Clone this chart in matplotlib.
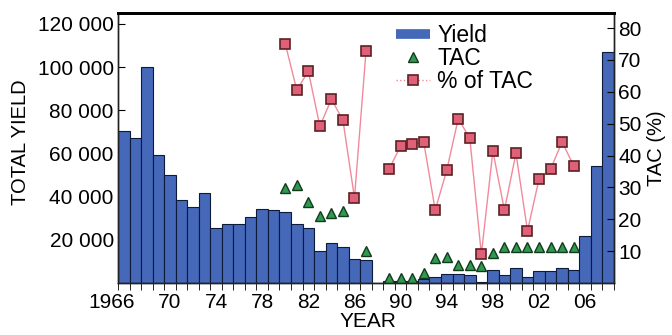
# yield, TAC and % of TAC by year
# bars = total yield (left axis), triangles = TAC (left axis), squares = % of TAC (right axis)

import matplotlib
matplotlib.use('Agg')
import matplotlib.pyplot as plt
import matplotlib.transforms as mtransforms
from matplotlib.lines import Line2D
from matplotlib.ticker import FuncFormatter
import numpy as np

plt.rcParams['font.family'] = ['Liberation Sans', 'DejaVu Sans']

#%% data
nan = np.nan
years = np.arange(1966, 2009)
yield_t = [70500, 67100, 100000, 59200, 50200, 38600, 35300, 41600, 25300, 27500,
           27500, 30600, 34200, 33600, 32700, 27500, 25300, 14700, 18600, 16600,
           11100, 10500, 0, 900, 900, 900, 1800, 3000, 4200, 4200,
           3700, 700, 6100, 3700, 6900, 2700, 5800, 5800, 6900, 6100,
           21700, 54100, 107000]
tac = [nan]*14 + [43900, 45500, 37700, 31100, 32400, 33200, nan, 14700, nan,
                  2200, 2200, 2200, 4500, 11600, 12300, 8400, 8400, 8000, 13900,
                  16600, 16600, 16600, 16600, 16600, 16600, 16600, nan, nan, nan]
pct_tac = [nan]*14 + [75.1, 60.5, 66.5, 49.2, 57.7, 51.1, 26.7, 72.7, nan,
                      35.7, 43.0, 43.5, 44.3, 22.9, 35.4, 51.6, 45.4, 9.0, 41.4,
                      22.9, 40.7, 16.4, 32.6, 35.7, 44.3, 36.8, nan, nan, nan]

label_years = [1966, 1970, 1974, 1978, 1982, 1986, 1990, 1994, 1998, 2002, 2006]
label_text = ['1966', '70', '74', '78', '82', '86', '90', '94', '98', '02', '06']

bar_color = '#4568b8'
tri_color = '#2f9a4f'
sq_color = '#e0607a'
line_color = '#f28a9a'

#%% make plot
fig = plt.figure(figsize=(6.72, 3.35), dpi=100)
ax1 = fig.add_axes([0.1756, 0.155, 0.7381, 0.806])
ax2 = ax1.twinx()

ax1.bar(years, yield_t, width=1.0, color=bar_color, edgecolor='#0d1a3a', linewidth=0.8, zorder=2)
ax1.plot(years, tac, linestyle='none', marker='^', markersize=7, markerfacecolor=tri_color,
         markeredgecolor='#143a1e', markeredgewidth=1.0, zorder=3)
ax2.plot(years, pct_tac, color=line_color, linewidth=1.0, marker='s', markersize=6.5,
         markerfacecolor=sq_color, markeredgecolor='#5a2222', markeredgewidth=1.2)

ax1.set_xlim(1965.5, 2008.5)
ax1.set_ylim(0, 125000)
ax2.set_ylim(0, 84.7)

# y axes
ax1.set_yticks([20000, 40000, 60000, 80000, 100000, 120000])
ax1.yaxis.set_major_formatter(FuncFormatter(lambda v, p: '{:,.0f}'.format(v).replace(',', ' ')))
ax2.set_yticks([10, 20, 30, 40, 50, 60, 70, 80])
ax1.tick_params(axis='y', direction='in', length=5, labelsize=15, pad=3)
ax2.tick_params(axis='y', direction='in', length=5, labelsize=15, pad=3)

# x axis: labels at bar centres, small ticks between bars
ax1.set_xticks(label_years)
ax1.set_xticklabels(label_text)
ax1.set_xticks(np.arange(1965.5, 2009, 1.0), minor=True)
ax1.tick_params(axis='x', which='major', length=0, labelsize=15, pad=7)
ax1.tick_params(axis='x', which='minor', direction='out', length=5)
# the first label sits a bit to the left in the original
offset = mtransforms.ScaledTranslation(-12/100, 0, fig.dpi_scale_trans)
lab0 = ax1.get_xticklabels()[0]
lab0.set_transform(lab0.get_transform() + offset)

ax1.set_ylabel('TOTAL YIELD', fontsize=14.5)
ax1.yaxis.set_label_coords(-0.177, 0.52)
ax2.set_ylabel('TAC (%)', fontsize=14.5)
ax2.yaxis.set_label_coords(1.066, 0.5)
ax1.set_xlabel('YEAR', fontsize=15)
ax1.xaxis.set_label_coords(0.504, -0.108)

for ax in (ax1, ax2):
    ax.spines['top'].set_linewidth(2.0)
    for s in ('left', 'right', 'bottom'):
        ax.spines[s].set_linewidth(1.0)
        ax.spines[s].set_color('#222222')

# legend with proxies
h_yield = Line2D([], [], color=bar_color, linewidth=7, solid_capstyle='butt')
h_tac = Line2D([], [], linestyle='none', marker='^', markersize=7, markerfacecolor=tri_color,
               markeredgecolor='#143a1e')
h_pct = Line2D([], [], color=line_color, linestyle=':', linewidth=1.0, marker='s', markersize=6.5,
               markerfacecolor=sq_color, markeredgecolor='#5a2222', markeredgewidth=1.2)
ax2.legend([h_yield, h_tac, h_pct], ['Yield', 'TAC', '% of TAC'], loc='upper left',
           bbox_to_anchor=(0.542, 0.995), frameon=False, fontsize=16.5, handlelength=1.5,
           handletextpad=0.3, labelspacing=0.0, borderaxespad=0)

fig.savefig('out.png', dpi=100)
plt.close()
